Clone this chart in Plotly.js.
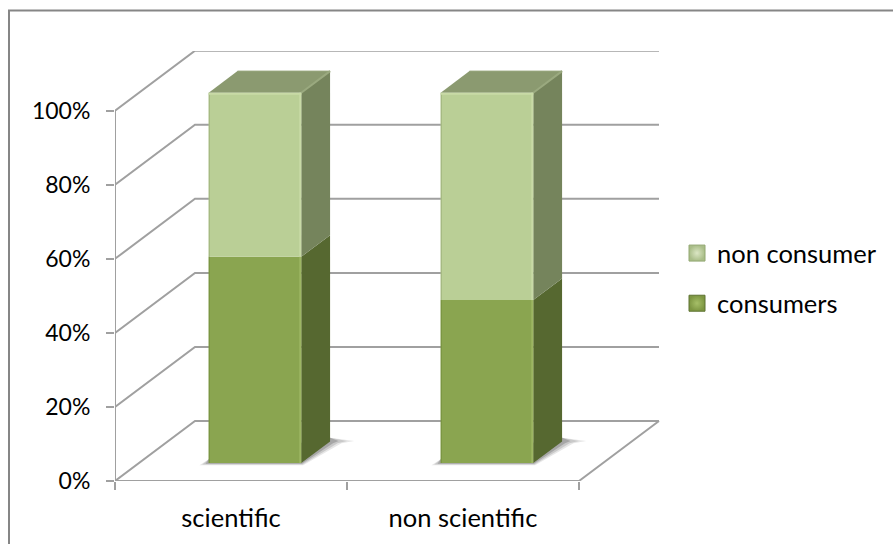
<!DOCTYPE html>
<html>
<head>
<meta charset="utf-8">
<script src="https://cdn.plot.ly/plotly-3.0.1.min.js"></script>
<style>html,body{margin:0;padding:0;background:#fff}#chart{width:893px;height:544px}</style>
</head>
<body>
<div id="chart"></div>
<script>
// Survey split shown as 100% stacked columns in an oblique 3D style.
const categories = ["scientific", "non scientific"];
const consumers = [55.7, 44];
const nonConsumers = [44.3, 56];
const valueTicks = [0, 20, 40, 60, 80, 100];
const tickLabels = ["0%", "20%", "40%", "60%", "80%", "100%"];

// Canvas geometry, in pixels
const W = 893, H = 544;
const plot = {left: 115, right: 660, bottom: 481, top: 51};
const unitX = 232;            // pixels per category
const unitY = 3.703;          // pixels per percent

// Oblique projection: full chart depth expressed in axis units
const depthX = 80 / unitX;
const depthY = 60 / unitY;
const n = categories.length;

// Column placement along the category and depth directions
const barWidth = 0.399;
const barDepthStart = 0.30;
const barDepth = 0.36;

const grey = "#a0a0a0";
const colors = {
  consumers: {front: "#8aa550", side: "#566830", edge: "#9db663", dark: "#76913f"},
  nonConsumers: {front: "#bacf96", side: "#75845c", top: "#8b9a70", edge: "#c8daa6", dark: "#9eb27c"}
};

function project(c, v, d) { return [c + d * depthX, v + d * depthY]; }

// The walls and shadow sit on the base axes, the columns on an overlay so they paint above them.
function polygon(points, fill, opacity, overlay) {
  const xy = points.map(p => project(p[0], p[1], p[2]));
  return {
    type: "scatter", mode: "lines", x: xy.map(p => p[0]), y: xy.map(p => p[1]),
    xaxis: overlay ? "x2" : "x", yaxis: overlay ? "y2" : "y",
    fill: "toself", fillcolor: fill, line: {width: 0}, opacity: opacity === undefined ? 1 : opacity,
    hoverinfo: "skip", showlegend: false, cliponaxis: false
  };
}
function line(points, color, width, overlay) {
  const xy = points.map(p => p ? project(p[0], p[1], p[2]) : [null, null]);
  return {
    type: "scatter", mode: "lines", x: xy.map(p => p[0]), y: xy.map(p => p[1]),
    xaxis: overlay ? "x2" : "x", yaxis: overlay ? "y2" : "y",
    line: {color: color, width: width}, hoverinfo: "skip", showlegend: false, cliponaxis: false
  };
}

const traces = [];

// Back wall, side wall and floor rules
const rules = [];
valueTicks.forEach(v => {
  rules.push([0, v, 0], [0, v, 1], [n, v, 1], null);
});
rules.push([0, 0, 0], [n, 0, 0], [n, 0, 1], null);
rules.push([0, 0, 0], [0, 100, 0], null);
traces.push(line(rules, grey, 2));

// Soft contact shadow on the floor
categories.forEach((_, i) => {
  const l = i + 0.5 - barWidth / 2, r = i + 0.5 + barWidth / 2;
  const d0 = barDepthStart, d1 = barDepthStart + barDepth;
  [[0.04, 0.14], [0.028, 0.2], [0.014, 0.3]].forEach(([g, a]) => {
    traces.push(polygon([
      [l - g, -0.6 * (g / 0.04), d0], [r + g * 0.2, -0.6 * (g / 0.04), d0], [r + g * 1.4, -0.2, d1 - 0.02],
      [r + g * 2.6, 0.1, d1], [r, 1, d1], [l, 1, d0], [l - g, -0.6 * (g / 0.04), d0]
    ], "#555555", a));
  });
});

// Side and top faces follow the stacked values
categories.forEach((_, i) => {
  const r = i + 0.5 + barWidth / 2, l = i + 0.5 - barWidth / 2;
  const d0 = barDepthStart, d1 = barDepthStart + barDepth;
  const split = consumers[i], total = consumers[i] + nonConsumers[i];
  traces.push(polygon([[r, 0, d0], [r, 0, d1], [r, split, d1], [r, split, d0], [r, 0, d0]], colors.consumers.side, 1, true));
  traces.push(polygon([[r, split, d0], [r, split, d1], [r, total, d1], [r, total, d0], [r, split, d0]], colors.nonConsumers.side, 1, true));
  traces.push(polygon([[l, total, d0], [l, total, d1], [r, total, d1], [r, total, d0], [l, total, d0]], colors.nonConsumers.top, 1, true));
  traces.push(line([[r, total, d0], [r, total, d1]], "#9aa97f", 2, true));
  traces.push(line([[l, total, d1], [r, total, d1]], "#97a67c", 1, true));
});

// Front faces: the columns themselves
const barX = categories.map((_, i) => i + 0.5 + barDepthStart * depthX);
const barBase = barDepthStart * depthY;
traces.push({
  type: "bar", x: barX, y: consumers, base: consumers.map(() => barBase), width: barWidth,
  xaxis: "x2", yaxis: "y2",
  marker: {color: colors.consumers.front, line: {width: 0}}, name: "consumers", showlegend: false,
  hoverinfo: "y"
});
traces.push({
  type: "bar", x: barX, y: nonConsumers, base: consumers.map(v => v + barBase), width: barWidth,
  xaxis: "x2", yaxis: "y2",
  marker: {color: colors.nonConsumers.front, line: {width: 0}}, name: "non consumer", showlegend: false,
  hoverinfo: "y"
});

// Bevel highlights along the front edges
categories.forEach((_, i) => {
  const r = i + 0.5 + barWidth / 2, l = i + 0.5 - barWidth / 2, d0 = barDepthStart;
  const split = consumers[i], total = consumers[i] + nonConsumers[i];
  const inset = 1 / unitX;
  traces.push(line([[r - inset, 0, d0], [r - inset, split, d0]], colors.consumers.edge, 2, true));
  traces.push(line([[r - inset, split, d0], [r - inset, total, d0]], colors.nonConsumers.edge, 2, true));
  traces.push(line([[l + inset / 2, 0, d0], [l + inset / 2, split, d0]], colors.consumers.dark, 1, true));
  traces.push(line([[l + inset / 2, split, d0], [l + inset / 2, total, d0]], colors.nonConsumers.dark, 1, true));
  traces.push(line([[l, total - 0.3, d0], [r, total - 0.3, d0]], colors.nonConsumers.edge, 2, true));
});

// Legend entries
traces.push({
  type: "scatter", mode: "markers", x: [null], y: [null], name: "non consumer", legendgroup: "a",
  marker: {symbol: "square", size: 16, color: "#a9bd88", line: {color: "#93a873", width: 1},
           gradient: {type: "radial", color: "#dbe6c4"}},
  showlegend: true, hoverinfo: "skip"
});
traces.push({
  type: "scatter", mode: "markers", x: [null], y: [null], name: "consumers", legendgroup: "b",
  marker: {symbol: "square", size: 16, color: "#7d9642", line: {color: "#5f7333", width: 1},
           gradient: {type: "radial", color: "#a6bf68"}},
  showlegend: true, hoverinfo: "skip"
});

const fontFamily = "Lato, Carlito, sans-serif";
const xRange = [0, (plot.right - plot.left) / unitX];
const yRange = [0, (plot.bottom - plot.top) / unitY];
const xDomain = [plot.left / W, plot.right / W];
const yDomain = [(H - plot.bottom) / H, (H - plot.top) / H];

const layout = {
  width: W, height: H,
  margin: {l: 0, r: 0, t: 0, b: 0},
  paper_bgcolor: "#ffffff", plot_bgcolor: "rgba(0,0,0,0)",
  barmode: "overlay",
  font: {family: fontFamily, size: 22, color: "#000000"},
  xaxis: {
    domain: xDomain, range: xRange,
    tickmode: "array", tickvals: categories.map((_, i) => i + 0.5), ticktext: categories,
    tickfont: {family: fontFamily, size: 25.5, color: "#000000"},
    ticks: "", ticklabelstandoff: 19, showgrid: false, zeroline: false, showline: false,
    minor: {tickmode: "array", tickvals: [0, 1, 2], ticks: "outside", ticklen: 8, tickwidth: 2, tickcolor: grey, showgrid: false}
  },
  yaxis: {
    domain: yDomain, range: yRange,
    tickmode: "array", tickvals: valueTicks, ticktext: tickLabels,
    tickfont: {family: fontFamily, size: 23, color: "#000000"},
    ticks: "outside", ticklen: 8, tickwidth: 2, tickcolor: grey, ticklabelstandoff: 11,
    showgrid: false, zeroline: false, showline: false
  },
  xaxis2: {domain: xDomain, range: xRange, overlaying: "x", anchor: "y2", visible: false},
  yaxis2: {domain: yDomain, range: yRange, overlaying: "y", anchor: "x2", visible: false},
  legend: {
    x: 677 / W, y: (H - 230) / H, xanchor: "left", yanchor: "top",
    bgcolor: "rgba(0,0,0,0)", traceorder: "grouped", itemsizing: "trace",
    font: {family: fontFamily, size: 25.5, color: "#000000"},
    tracegroupgap: 14, itemwidth: 30
  },
  shapes: [
    {type: "line", xref: "paper", yref: "paper", x0: 9 / W, x1: 9 / W, y0: 0, y1: (H - 10) / H, line: {color: "#868686", width: 2}},
    {type: "line", xref: "paper", yref: "paper", x0: 8 / W, x1: 1, y0: (H - 10.5) / H, y1: (H - 10.5) / H, line: {color: "#868686", width: 2}}
  ]
};

Plotly.newPlot("chart", traces, layout, {displayModeBar: false, responsive: false});
</script>
</body>
</html>
